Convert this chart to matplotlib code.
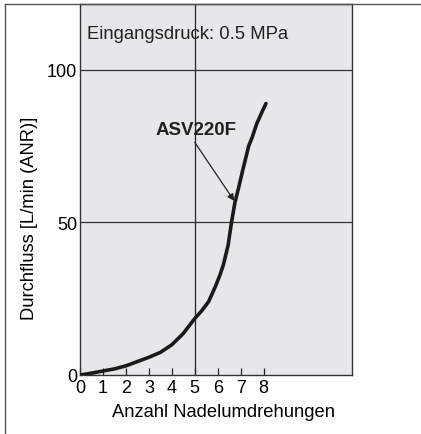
import matplotlib.pyplot as plt
from matplotlib.lines import Line2D

plt.rcParams['font.family'] = ['Liberation Sans', 'DejaVu Sans']

# Kennlinie ASV220F
umdrehungen = [0, 0.5, 1, 1.5, 2, 3, 3.5, 4, 4.5, 5, 5.3, 5.6, 5.9, 6.1,
               6.25, 6.45, 6.6, 6.75, 6.9, 7.1, 7.35, 7.5, 7.7, 7.92, 8.1]
durchfluss = [0, 0.6, 1.3, 2.0, 3.0, 5.8, 7.4, 9.9, 13.6, 18.5, 21.0, 24.0,
              29.0, 32.8, 36.2, 42.4, 50.0, 56.5, 61.0, 67.4, 75.0, 77.8,
              82.3, 86.0, 88.9]

x_ticks = [0, 1, 2, 3, 4, 5, 6, 7, 8]
y_ticks = [0, 50, 100]

fig = plt.figure(figsize=(4.21, 4.35), dpi=100)
ax = fig.add_axes([80 / 421, 1 - 376 / 435, 272 / 421, 371 / 435])
ax.set_facecolor('#e6e7e9')

ax.plot(umdrehungen, durchfluss, color='#1a1a1a', lw=2.6,
        solid_capstyle='round', solid_joinstyle='round', zorder=3)

ax.set_xlim(0, 11.85)
ax.set_ylim(0, 121.5)
ax.set_xticks(x_ticks)
ax.set_yticks(y_ticks)
ax.tick_params(axis='x', direction='in', length=5, width=0.9,
               color='#222222', labelsize=13, pad=3)
ax.tick_params(axis='y', length=0, labelsize=13, pad=2)

# Gitter
for yv in y_ticks[1:]:
    ax.axhline(yv, color='#333333', lw=0.9, zorder=1)
ax.axvline(5, color='#222222', lw=0.9, zorder=1)

for s in ax.spines.values():
    s.set_color('#333333')
    s.set_linewidth(1.0)

ax.set_xlabel('Anzahl Nadelumdrehungen', fontsize=13.2)
ax.set_ylabel('Durchfluss [L/min (ANR)]', fontsize=13.2)
ax.xaxis.set_label_coords(0.526, -0.076)
ax.yaxis.set_label_coords(-0.155, 0.426)

ax.text(0.3, 112, 'Eingangsdruck: 0.5 MPa', fontsize=13.3, va='center',
        ha='left', color='#222222')
ax.text(5.04, 80.4, 'ASV220F', fontsize=13.5, fontweight='bold', ha='center',
        va='center', color='#222222')
ax.annotate('', xy=(6.72, 57), xytext=(5.0, 76.2),
            arrowprops=dict(arrowstyle='-|>', lw=0.9, color='#222222',
                            mutation_scale=10, shrinkA=0, shrinkB=0))

# Rahmen
fig.add_artist(Line2D([5 / 421, 1], [1 - 5 / 435, 1 - 5 / 435],
                      transform=fig.transFigure, color='#555555', lw=1.0))
fig.add_artist(Line2D([5 / 421, 5 / 421], [0, 1 - 5 / 435],
                      transform=fig.transFigure, color='#555555', lw=1.0))

fig.savefig('out.png', dpi=100)
